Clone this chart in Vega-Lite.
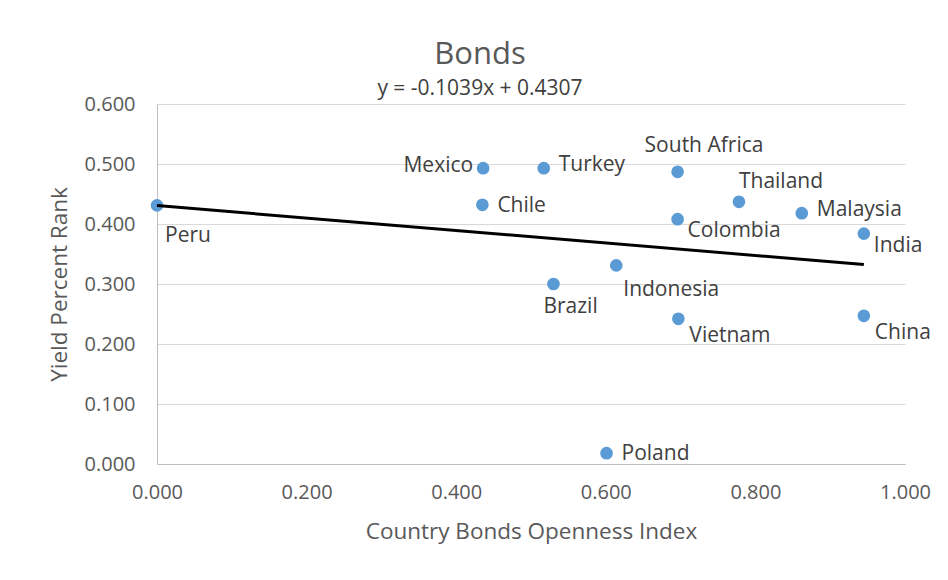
{
  "$schema": "https://vega.github.io/schema/vega-lite/v6.json",
  "autosize": "none",
  "width": 748,
  "height": 360,
  "padding": {"left": 157, "top": 104, "right": 43, "bottom": 116},
  "background": "white",
  "datasets": {
    "countries": [
      {"country": "Peru", "openness": 0.0, "yieldRank": 0.431},
      {"country": "Mexico", "openness": 0.436, "yieldRank": 0.493},
      {"country": "Turkey", "openness": 0.517, "yieldRank": 0.493},
      {"country": "Chile", "openness": 0.435, "yieldRank": 0.432},
      {"country": "Brazil", "openness": 0.530, "yieldRank": 0.300},
      {"country": "Indonesia", "openness": 0.614, "yieldRank": 0.331},
      {"country": "Poland", "openness": 0.601, "yieldRank": 0.018},
      {"country": "South Africa", "openness": 0.696, "yieldRank": 0.487},
      {"country": "Thailand", "openness": 0.778, "yieldRank": 0.437},
      {"country": "Colombia", "openness": 0.696, "yieldRank": 0.408},
      {"country": "Vietnam", "openness": 0.697, "yieldRank": 0.242},
      {"country": "China", "openness": 0.945, "yieldRank": 0.247},
      {"country": "Malaysia", "openness": 0.862, "yieldRank": 0.418},
      {"country": "India", "openness": 0.945, "yieldRank": 0.384}
    ],
    "trend": [
      {"openness": 0.0, "yieldRank": 0.4307},
      {"openness": 0.945, "yieldRank": 0.3325}
    ]
  },
  "title": {
    "text": "Bonds",
    "subtitle": "y = -0.1039x + 0.4307",
    "anchor": "middle",
    "frame": "group",
    "dx": -51,
    "offset": -6,
    "font": "Open Sans",
    "fontSize": 31,
    "fontWeight": "normal",
    "color": "#595959",
    "subtitleFont": "Open Sans",
    "subtitleFontSize": 21,
    "subtitleColor": "#404040",
    "subtitlePadding": 7
  },
  "config": {
    "view": {"stroke": null},
    "font": "Open Sans",
    "axis": {
      "labelFont": "Open Sans",
      "titleFont": "Open Sans",
      "labelColor": "#595959",
      "titleColor": "#595959",
      "labelFontSize": 20,
      "titleFontSize": 22.5,
      "titleFontWeight": "normal",
      "labelFlush": false,
      "ticks": false,
      "domainColor": "#bfbfbf",
      "gridColor": "#d9d9d9",
      "gridWidth": 1.2
    }
  },
  "layer": [
    {
      "data": {"name": "countries"},
      "mark": {"type": "point", "filled": true, "opacity": 1, "size": 160, "color": "#5b9bd5"},
      "encoding": {
        "x": {
          "field": "openness",
          "type": "quantitative",
          "scale": {"domain": [0, 1], "nice": false},
          "axis": {
            "title": "Country Bonds Openness Index",
            "values": [0, 0.2, 0.4, 0.6, 0.8, 1],
            "format": ".3f",
            "grid": false,
            "labelPadding": 18,
            "titlePadding": 18
          }
        },
        "y": {
          "field": "yieldRank",
          "type": "quantitative",
          "scale": {"domain": [0, 0.6], "nice": false},
          "axis": {
            "title": "Yield Percent Rank",
            "values": [0, 0.1, 0.2, 0.3, 0.4, 0.5, 0.6],
            "format": ".3f",
            "grid": true,
            "labelPadding": 22,
            "titlePadding": 13
          }
        }
      }
    },
    {
      "data": {"name": "trend"},
      "mark": {"type": "line", "color": "black", "strokeWidth": 3},
      "encoding": {
        "x": {"field": "openness", "type": "quantitative"},
        "y": {"field": "yieldRank", "type": "quantitative"}
      }
    },
    {
      "data": {"name": "countries"},
      "transform": [{"filter": {"field": "country", "oneOf": ["Turkey", "Malaysia"]}}],
      "mark": {"type": "text", "align": "left", "baseline": "middle", "dx": 15, "dy": -3, "fontSize": 21, "font": "Open Sans", "color": "#404040"},
      "encoding": {"x": {"field": "openness", "type": "quantitative"}, "y": {"field": "yieldRank", "type": "quantitative"}, "text": {"field": "country"}}
    },
    {
      "data": {"name": "countries"},
      "transform": [{"filter": {"field": "country", "oneOf": ["Chile", "Poland"]}}],
      "mark": {"type": "text", "align": "left", "baseline": "middle", "dx": 15, "dy": 1, "fontSize": 21, "font": "Open Sans", "color": "#404040"},
      "encoding": {"x": {"field": "openness", "type": "quantitative"}, "y": {"field": "yieldRank", "type": "quantitative"}, "text": {"field": "country"}}
    },
    {
      "data": {"name": "countries"},
      "transform": [{"filter": {"field": "country", "equal": "Mexico"}}],
      "mark": {"type": "text", "align": "right", "baseline": "middle", "dx": -10, "dy": -2, "fontSize": 21, "font": "Open Sans", "color": "#404040"},
      "encoding": {"x": {"field": "openness", "type": "quantitative"}, "y": {"field": "yieldRank", "type": "quantitative"}, "text": {"field": "country"}}
    },
    {
      "data": {"name": "countries"},
      "transform": [{"filter": {"field": "country", "equal": "South Africa"}}],
      "mark": {"type": "text", "align": "left", "baseline": "middle", "dx": -33, "dy": -26, "fontSize": 21, "font": "Open Sans", "color": "#404040"},
      "encoding": {"x": {"field": "openness", "type": "quantitative"}, "y": {"field": "yieldRank", "type": "quantitative"}, "text": {"field": "country"}}
    },
    {
      "data": {"name": "countries"},
      "transform": [{"filter": {"field": "country", "equal": "Thailand"}}],
      "mark": {"type": "text", "align": "left", "baseline": "middle", "dx": 0, "dy": -20, "fontSize": 21, "font": "Open Sans", "color": "#404040"},
      "encoding": {"x": {"field": "openness", "type": "quantitative"}, "y": {"field": "yieldRank", "type": "quantitative"}, "text": {"field": "country"}}
    },
    {
      "data": {"name": "countries"},
      "transform": [{"filter": {"field": "country", "oneOf": ["Colombia", "India"]}}],
      "mark": {"type": "text", "align": "left", "baseline": "middle", "dx": 10, "dy": 12, "fontSize": 21, "font": "Open Sans", "color": "#404040"},
      "encoding": {"x": {"field": "openness", "type": "quantitative"}, "y": {"field": "yieldRank", "type": "quantitative"}, "text": {"field": "country"}}
    },
    {
      "data": {"name": "countries"},
      "transform": [{"filter": {"field": "country", "oneOf": ["Vietnam", "China"]}}],
      "mark": {"type": "text", "align": "left", "baseline": "middle", "dx": 11, "dy": 17, "fontSize": 21, "font": "Open Sans", "color": "#404040"},
      "encoding": {"x": {"field": "openness", "type": "quantitative"}, "y": {"field": "yieldRank", "type": "quantitative"}, "text": {"field": "country"}}
    },
    {
      "data": {"name": "countries"},
      "transform": [{"filter": {"field": "country", "equal": "Indonesia"}}],
      "mark": {"type": "text", "align": "left", "baseline": "middle", "dx": 7, "dy": 25, "fontSize": 21, "font": "Open Sans", "color": "#404040"},
      "encoding": {"x": {"field": "openness", "type": "quantitative"}, "y": {"field": "yieldRank", "type": "quantitative"}, "text": {"field": "country"}}
    },
    {
      "data": {"name": "countries"},
      "transform": [{"filter": {"field": "country", "equal": "Peru"}}],
      "mark": {"type": "text", "align": "left", "baseline": "middle", "dx": 8, "dy": 31, "fontSize": 21, "font": "Open Sans", "color": "#404040"},
      "encoding": {"x": {"field": "openness", "type": "quantitative"}, "y": {"field": "yieldRank", "type": "quantitative"}, "text": {"field": "country"}}
    },
    {
      "data": {"name": "countries"},
      "transform": [{"filter": {"field": "country", "equal": "Brazil"}}],
      "mark": {"type": "text", "align": "left", "baseline": "middle", "dx": -10, "dy": 23, "fontSize": 21, "font": "Open Sans", "color": "#404040"},
      "encoding": {"x": {"field": "openness", "type": "quantitative"}, "y": {"field": "yieldRank", "type": "quantitative"}, "text": {"field": "country"}}
    }
  ]
}
